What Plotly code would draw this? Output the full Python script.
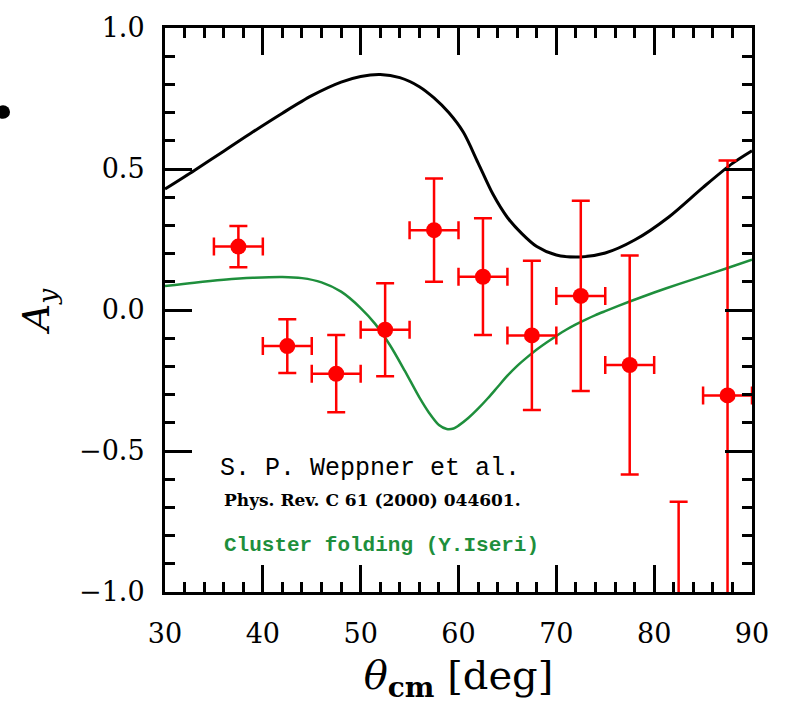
import plotly.graph_objects as go

# ---- data ----
theta = [37.5, 42.5, 47.5, 52.5, 57.5, 62.5, 67.5, 72.5, 77.5, 87.5, 82.5]
ay = [0.225, -0.128, -0.226, -0.070, 0.283, 0.118, -0.090, 0.050, -0.195, -0.303, -1.30]
ay_err = [0.073, 0.095, 0.137, 0.165, 0.183, 0.207, 0.265, 0.337, 0.388, 0.833, 0.62]
theta_err = [2.5] * len(theta)

rel_x = [30.0, 33.0, 36.0, 39.0, 42.0, 45.0, 48.0, 50.0, 52.0, 54.0, 56.0, 57.5, 59.0, 60.5,
         62.0, 63.5, 65.0, 66.5, 68.0, 70.0, 72.5, 75.0, 78.0, 81.5, 85.0, 88.0, 90.0]
rel_y = [0.429, 0.495, 0.563, 0.632, 0.698, 0.760, 0.808, 0.828, 0.835, 0.824, 0.792, 0.752, 0.700, 0.630,
         0.522, 0.412, 0.328, 0.270, 0.225, 0.195, 0.188, 0.202, 0.248, 0.330, 0.435, 0.520, 0.565]

cf_x = [30.0, 33.0, 36.0, 39.0, 42.0, 44.0, 46.0, 48.0, 50.0, 51.5, 53.0, 54.5, 56.0, 57.0, 58.0, 58.8,
        59.5, 60.0, 61.0, 62.0, 63.0, 64.0, 65.0, 66.0, 67.0, 68.0, 69.0, 70.0, 71.0, 72.0, 73.0, 74.0,
        75.0, 77.5, 80.0, 82.5, 85.0, 87.5, 90.0]
cf_y = [0.085, 0.097, 0.107, 0.114, 0.117, 0.113, 0.098, 0.065, 0.007, -0.050, -0.125, -0.215, -0.310, -0.365, -0.408, -0.422,
        -0.420, -0.410, -0.383, -0.350, -0.313, -0.273, -0.233, -0.198, -0.168, -0.140, -0.115, -0.092, -0.070, -0.051, -0.034, -0.018,
        -0.004, 0.030, 0.062, 0.092, 0.120, 0.149, 0.178]

x_ticks = [30, 40, 50, 60, 70, 80, 90]
y_ticks = [-1.0, -0.5, 0.0, 0.5, 1.0]
y_ticklabels = ["\u22121.0", "\u22120.5", "0.0", "0.5", "1.0"]

GREEN = "#1e8f3c"
RED = "#ff0000"

fig = go.Figure()
fig.add_trace(go.Scatter(x=rel_x, y=rel_y, mode="lines",
                         line=dict(color="black", width=3, shape="spline", smoothing=0.8), showlegend=False))
fig.add_trace(go.Scatter(x=cf_x, y=cf_y, mode="lines",
                         line=dict(color=GREEN, width=2.5, shape="spline", smoothing=0.8), showlegend=False))
fig.add_trace(go.Scatter(
    x=theta, y=ay, mode="markers",
    marker=dict(color=RED, size=16),
    error_y=dict(type="data", array=ay_err, color=RED, thickness=2.5, width=9),
    error_x=dict(type="data", array=theta_err, color=RED, thickness=2.5, width=9),
    showlegend=False))

axis_common = dict(
    showline=True, linecolor="black", linewidth=3, mirror="allticks",
    ticks="inside", ticklen=27, tickwidth=2.5, tickcolor="black",
    showgrid=False, zeroline=False,
    tickfont=dict(family="DejaVu Serif", size=27, color="black"),
)

fig.update_xaxes(range=[30, 90], tickvals=x_ticks, ticktext=[str(v) for v in x_ticks],
                 minor=dict(dtick=2, ticks="inside", ticklen=10, tickwidth=2.5, tickcolor="black"),
                 ticklabelstandoff=16,
                 title=dict(text="<i>θ</i><sub><b>cm</b></sub> [deg]",
                            font=dict(family="DejaVu Serif", size=40, color="black"), standoff=14),
                 **axis_common)
fig.update_yaxes(range=[-1.0, 1.0], tickvals=y_ticks, ticktext=y_ticklabels,
                 minor=dict(dtick=0.1, ticks="inside", ticklen=10, tickwidth=2.5, tickcolor="black"),
                 ticklabelstandoff=12,
                 title=dict(text="<i>A<sub>y</sub></i>",
                            font=dict(family="DejaVu Serif", size=38, color="black"), standoff=18),
                 **axis_common)

fig.add_annotation(x=35.4, y=-0.563, xref="x", yref="y", text="S. P. Weppner et al.",
                   showarrow=False, xanchor="left", yanchor="middle",
                   font=dict(family="Liberation Mono", size=25, color="black"))
fig.add_annotation(x=35.8, y=-0.675, xref="x", yref="y", text="<b>Phys. Rev. C 61 (2000) 044601.</b>",
                   showarrow=False, xanchor="left", yanchor="middle",
                   font=dict(family="DejaVu Serif", size=17, color="black"))
fig.add_annotation(x=35.8, y=-0.836, xref="x", yref="y", text="<b>Cluster folding (Y.Iseri)</b>",
                   showarrow=False, xanchor="left", yanchor="middle",
                   font=dict(family="Liberation Mono", size=21, color=GREEN))

# stray bullet at top left
fig.add_shape(type="circle", xref="paper", yref="paper",
              x0=-0.288, x1=-0.264, y0=0.839, y1=0.863,
              fillcolor="black", line=dict(color="black", width=0))

fig.update_layout(width=786, height=704, margin=dict(l=165, r=34, t=20, b=112),
                  plot_bgcolor="white", paper_bgcolor="white")

fig.write_html("out.html")
